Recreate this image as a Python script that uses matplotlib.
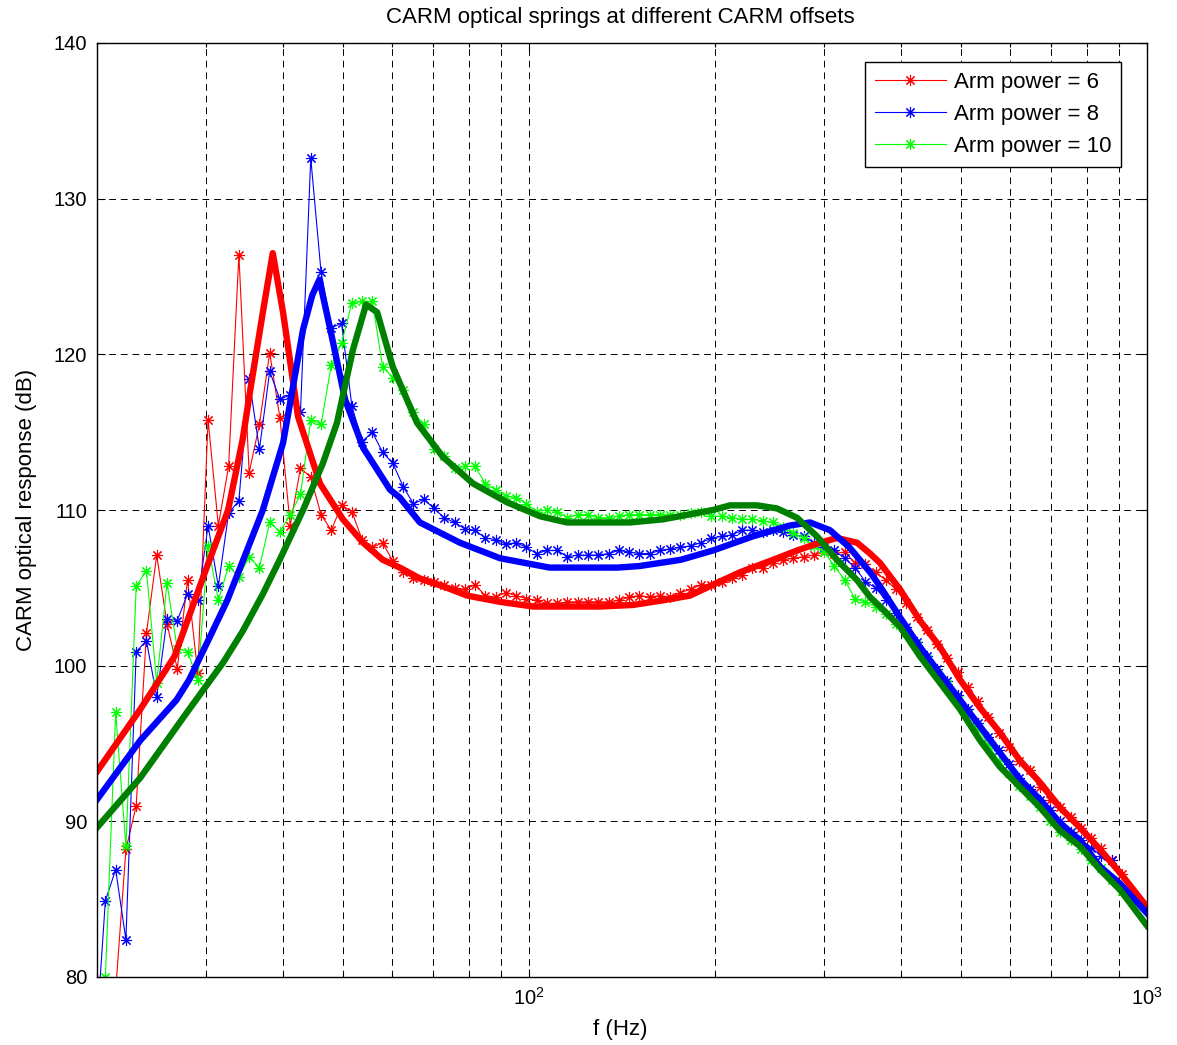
import numpy as np
import matplotlib
matplotlib.use("Agg")
import matplotlib.pyplot as plt
from matplotlib.ticker import LogLocator, NullFormatter

plt.rcParams['font.family'] = ['Liberation Sans', 'DejaVu Sans']
plt.rcParams['mathtext.fontset'] = 'custom'
plt.rcParams['mathtext.rm'] = 'Liberation Sans'
plt.rcParams['mathtext.it'] = 'Liberation Sans'

# measurement sweep (log spaced, as taken by the analyzer)
freq = np.geomspace(19.86, 911, 101)

meas_p6 = [74.0, 75.0, 79.1, 88.2, 91.0, 102.1, 107.1, 102.7, 99.8, 105.5,
           99.5, 115.8, 109.0, 112.8, 126.4, 112.4, 115.5, 120.1, 115.9, 109.0,
           112.7, 112.1, 109.7, 108.7, 110.3, 109.9, 108.1, 107.6, 107.9, 106.7,
           106.0, 105.6, 105.5, 105.4, 105.2, 105.0, 104.9, 105.2, 104.5, 104.4,
           104.7, 104.5, 104.3, 104.2, 104.0, 104.0, 104.1, 104.1, 104.1, 104.1,
           104.1, 104.2, 104.4, 104.5, 104.4, 104.5, 104.4, 104.7, 104.9, 105.2,
           105.2, 105.4, 105.6, 105.8, 106.3, 106.3, 106.6, 106.8, 106.9, 107.0,
           107.1, 107.3, 107.2, 107.3, 106.6, 106.5, 106.0, 105.5, 104.9, 104.0,
           103.1, 102.3, 101.4, 100.5, 99.6, 98.6, 97.7, 96.7, 95.7, 94.8,
           93.9, 93.3, 92.2, 91.4, 90.9, 90.3, 89.6, 88.9, 88.3, 87.5,
           86.6]
meas_p8 = [75.1, 84.9, 86.9, 82.4, 100.9, 101.6, 98.0, 103.0, 102.9, 104.6,
           104.2, 109.0, 105.1, 109.8, 110.6, 118.4, 113.9, 118.9, 117.1, 117.4,
           116.3, 132.6, 125.3, 121.7, 122.0, 116.7, 114.4, 115.0, 113.7, 113.0,
           111.5, 110.4, 110.7, 110.1, 109.5, 109.2, 108.8, 108.7, 108.2, 108.1,
           107.8, 107.9, 107.6, 107.2, 107.4, 107.4, 107.0, 107.1, 107.1, 107.1,
           107.2, 107.4, 107.3, 107.2, 107.2, 107.4, 107.5, 107.6, 107.7, 107.9,
           108.2, 108.3, 108.4, 108.7, 108.7, 108.6, 108.7, 108.6, 108.4, 108.3,
           107.9, 107.6, 107.4, 106.9, 106.3, 105.4, 105.0, 104.2, 103.4, 102.5,
           101.5, 100.6, 99.8, 99.0, 98.1, 97.2, 96.3, 95.4, 94.6, 93.7,
           92.8, 92.1, 91.4, 90.7, 90.0, 89.3, 88.8, 88.3, 87.8, 87.5]
meas_p10 = [76.0, 80.0, 97.0, 88.4, 105.1, 106.1, 98.9, 105.3, 101.1, 100.9,
            99.1, 107.7, 104.2, 106.4, 105.7, 107.0, 106.3, 109.2, 108.6, 109.7,
            111.0, 115.8, 115.5, 119.3, 120.7, 123.3, 123.4, 123.4, 119.2, 118.5,
            117.7, 116.3, 115.5, 113.9, 113.5, 112.7, 112.8, 112.8, 111.7, 111.3,
            110.9, 110.8, 110.4, 109.9, 110.0, 109.9, 109.5, 109.7, 109.7, 109.5,
            109.5, 109.6, 109.7, 109.7, 109.7, 109.7, 109.7, 109.7, 109.8, 109.9,
            109.6, 109.6, 109.5, 109.4, 109.4, 109.3, 109.2, 108.9, 108.5, 108.2,
            107.7, 107.3, 106.4, 105.5, 104.3, 104.1, 103.8, 103.3, 102.7, 102.1,
            101.3, 100.4, 99.5, 98.8, 97.8, 96.9, 95.9, 94.9, 93.9, 93.1,
            92.3, 91.6, 90.9, 90.0, 89.3, 88.8, 88.2, 87.5, 87.0, 86.2,
            85.5]

# model curves (thick lines)
model_f_p6 = [20, 23.5, 26.7, 29.9, 32.6, 34.4, 35.4, 37.1, 38.5, 40.0,
              42.3, 45.9, 50.0, 53.9, 58.0, 61.8, 66.6, 72.6, 79.4, 89.8,
              101.5, 115.2, 130.3, 147.4, 164.8, 182.2, 198.5, 219.5, 248.3, 271.5,
              295.7, 315.0, 339.5, 356.4, 369.8, 398.4, 429.2, 462.4, 498.2, 536.8,
              578.2, 623.0, 671.2, 723.0, 779.0, 839.1, 904.4, 1000]
model_p6 = [93.2, 97.2, 100.6, 106.0, 110.0, 114.5, 117.7, 122.7, 126.5, 122.7,
            116.0, 111.7, 109.4, 107.9, 106.8, 106.3, 105.6, 105.1, 104.5, 104.1,
            103.8, 103.8, 103.8, 103.9, 104.2, 104.5, 105.2, 106.0, 106.8, 107.4,
            107.9, 108.2, 107.9, 107.2, 106.6, 104.9, 102.9, 101.2, 99.1, 97.3,
            95.7, 93.9, 92.5, 90.9, 89.6, 88.2, 86.7, 84.5]
model_f_p8 = [20, 23.5, 26.9, 28.2, 30.5, 32.5, 34.1, 37.1, 40.0, 43.1,
              44.6, 45.8, 47.7, 50.4, 53.9, 59.6, 61.8, 66.6, 77.3, 89.8,
              108.0, 139.0, 151.0, 176.0, 198.5, 230.0, 264.0, 285.0, 307.0, 330.0,
              356.4, 369.8, 398.4, 429.2, 462.4, 498.2, 536.8, 578.2, 623.0, 671.2,
              723.0, 779.0, 839.1, 904.4, 1000]
model_p8 = [91.4, 95.2, 97.8, 99.1, 101.9, 104.2, 106.3, 110.0, 114.3, 121.6,
            123.8, 124.8, 121.6, 117.1, 114.0, 111.3, 110.8, 109.2, 107.9, 106.9,
            106.3, 106.3, 106.4, 106.8, 107.4, 108.3, 109.0, 109.2, 108.7, 107.6,
            106.0, 105.1, 103.1, 101.2, 99.5, 97.8, 96.1, 94.4, 92.7, 91.4,
            89.9, 88.8, 87.1, 86.0, 84.1]
model_f_p10 = [20, 23.5, 28.2, 32.0, 34.4, 37.1, 39.5, 43.1, 46.4, 48.9,
               51.9, 54.5, 56.8, 60.2, 65.9, 72.6, 81.2, 92.1, 104.2, 115.2,
               130.3, 145.7, 164.8, 198.5, 211.5, 233.7, 252.0, 271.5, 292.6, 315.0,
               339.5, 356.4, 369.8, 398.4, 429.2, 462.4, 498.2, 536.8, 578.2, 623.0,
               671.2, 723.0, 779.0, 839.1, 904.4, 1000]
model_p10 = [89.6, 92.8, 97.2, 100.2, 102.2, 104.6, 106.8, 110.0, 113.0, 115.6,
             120.3, 123.2, 122.7, 119.2, 115.6, 113.4, 111.7, 110.5, 109.6, 109.2,
             109.2, 109.2, 109.4, 110.0, 110.3, 110.3, 110.1, 109.5, 108.3, 106.8,
             105.5, 104.4, 103.8, 102.5, 100.6, 98.9, 97.2, 95.2, 93.5, 92.2,
             90.9, 89.4, 88.4, 86.9, 85.6, 83.3]

labels = ["Arm power = 6", "Arm power = 8", "Arm power = 10"]

fig = plt.figure(figsize=(11.77, 10.45), dpi=100)
ax = fig.add_axes([97/1177, 1 - 977/1045, 1050/1177, 934/1045])

star = (8, 2, 0)
ax.plot(freq, meas_p6, color="#ff0000", lw=0.8, marker=star, ms=8, mew=0.8, label=labels[0])
ax.plot(freq[:len(meas_p8)], meas_p8, color="#0000ff", lw=0.8, marker=star, ms=8, mew=0.8, label=labels[1])
ax.plot(freq, meas_p10, color="#00ff00", lw=0.8, marker=star, ms=8, mew=0.8, label=labels[2])

ax.plot(model_f_p6, model_p6, color="#ff0000", lw=4.6, solid_joinstyle="round")
ax.plot(model_f_p8, model_p8, color="#0000ff", lw=4.6, solid_joinstyle="round")
ax.plot(model_f_p10, model_p10, color="#008000", lw=4.6, solid_joinstyle="round")

ax.set_xscale("log")
ax.set_xlim(20, 1000)
ax.set_ylim(80, 140)
ax.set_yticks(range(80, 141, 10))
ax.xaxis.set_major_locator(LogLocator(base=10))
ax.xaxis.set_minor_locator(LogLocator(base=10, subs=np.arange(2, 10)))
ax.xaxis.set_minor_formatter(NullFormatter())

ax.grid(True, which="major", axis="both", color="k", lw=0.7, linestyle=(0, (7, 5)))
ax.grid(True, which="minor", axis="x", color="k", lw=0.7, linestyle=(0, (7, 5)))
ax.set_axisbelow(True)

ax.tick_params(which="both", direction="in", top=True, right=True, labelsize=14.5, width=0.8)
ax.tick_params(which="major", length=6, pad=7)
ax.tick_params(which="minor", length=3)
for s in ax.spines.values():
    s.set_linewidth(1.0)
    s.set_color("k")

fig.text(620/1177, 1 - 17/1045, "CARM optical springs at different CARM offsets",
         ha="center", va="center", fontsize=16)
fig.text(27/1177, 1 - 510/1045, "CARM optical response (dB)", rotation=90,
         ha="center", va="center", fontsize=16)
fig.text(620/1177, 1 - 1030/1045, "f (Hz)", ha="center", va="center", fontsize=16)

leg = ax.legend(loc="upper right", bbox_to_anchor=(1121/1177, 1 - 62/1045),
                bbox_transform=fig.transFigure, borderaxespad=0, fontsize=16,
                fancybox=False, framealpha=1, edgecolor="k", numpoints=1,
                handlelength=3.2, handletextpad=0.35, labelspacing=0.5, borderpad=0.45)
leg.get_frame().set_linewidth(1.0)

fig.savefig("out.png", dpi=100)
